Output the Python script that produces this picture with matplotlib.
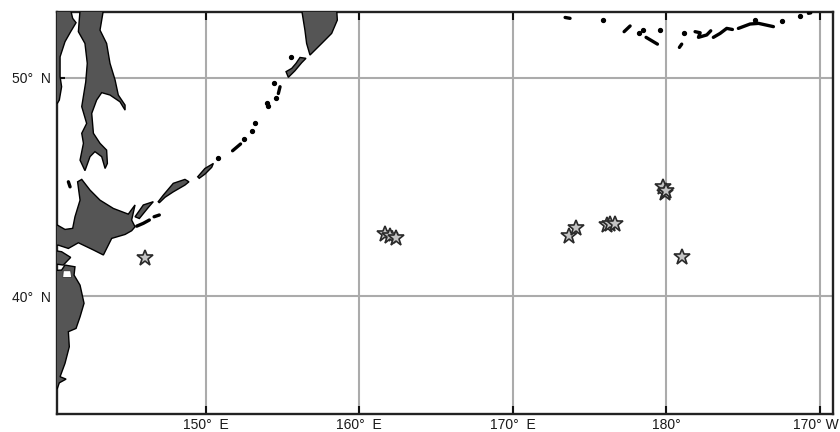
# Earthquake epicentres on a map of the NW Pacific
import matplotlib
matplotlib.use('Agg')
import matplotlib.pyplot as plt
from matplotlib.patches import Polygon
from matplotlib.transforms import ScaledTranslation

plt.rcParams['font.family'] = ['Liberation Sans', 'DejaVu Sans']

# star positions, lon / lat (lon past 180 runs on eastwards)
star_lon = [146.06, 161.69, 162.01, 162.38, 173.67, 174.12, 176.16, 176.35, 176.66, 179.81, 179.92, 179.95, 181.0]
star_lat = [41.74, 42.84, 42.76, 42.66, 42.73, 43.10, 43.25, 43.30, 43.28, 44.97, 44.73, 44.80, 41.77]

lon_ticks = [150, 160, 170, 180, 190]
lon_labels = ['150°  E', '160°  E', '170°  E', '180°', '170° W']
lat_ticks = [40, 50]
lat_labels = ['40°  N', '50°  N']

# land outlines
sakhalin = [(143.35, 53.09), (143.13, 52.17), (143.56, 51.56), (143.78, 50.65), (144.11, 49.89), (144.32, 49.20),
            (144.76, 48.74), (144.76, 48.51), (144.43, 48.89), (143.78, 49.20), (143.24, 49.31), (142.91, 48.97),
            (142.59, 48.36), (142.70, 47.45), (143.13, 46.99), (143.56, 46.68), (143.61, 46.07), (143.46, 45.84),
            (143.24, 46.38), (142.80, 46.61), (142.48, 46.38), (142.15, 45.74), (141.83, 46.22), (142.05, 46.99),
            (141.94, 47.45), (142.26, 47.90), (141.94, 48.67), (142.2, 49.8), (142.3, 50.65), (142.15, 51.56),
            (141.72, 52.10), (141.83, 53.09)]
mainland = [(140.0, 53.09), (141.22, 53.09), (141.35, 52.71), (141.57, 52.51), (141.22, 52.10), (140.85, 51.64),
            (140.53, 50.95), (140.53, 50.04), (140.63, 49.58), (140.48, 48.97), (140.35, 48.82), (140.0, 48.82)]
hokkaido = [(141.67, 45.23), (141.94, 45.34), (142.48, 44.85), (143.13, 44.39), (144.0, 44.01), (144.97, 43.75),
            (145.41, 44.17), (145.19, 43.48), (145.41, 43.17), (145.19, 42.99), (144.76, 42.82), (143.89, 42.64),
            (143.35, 41.88), (142.70, 42.11), (141.72, 42.44), (141.07, 42.18), (140.42, 42.33), (140.0, 42.33),
            (140.0, 43.25), (140.35, 43.25), (140.85, 43.05), (141.35, 43.10), (141.5, 43.63), (141.83, 44.39)]
oshima = [(140.0, 42.1), (140.63, 42.03), (141.22, 41.77), (140.74, 41.42), (140.0, 41.49)]
honshu = [(140.0, 41.16), (140.63, 41.19), (140.85, 41.42), (141.50, 41.34), (141.44, 40.96), (141.83, 40.50),
          (142.09, 39.67), (141.83, 39.05), (141.57, 38.52), (141.07, 38.37), (141.13, 37.68), (140.85, 36.92),
          (140.53, 36.31), (140.92, 36.20), (140.48, 36.03), (140.35, 35.77), (140.0, 35.77)]
kamchatka = [(156.26, 53.09), (158.54, 53.09), (158.58, 52.63), (158.21, 52.02), (157.56, 51.56), (156.80, 51.03),
             (156.58, 51.56), (156.47, 52.17)]
paramushir = [(155.24, 50.27), (155.39, 50.01), (155.82, 50.31), (156.26, 50.68), (156.54, 50.88), (156.15, 50.92),
              (155.89, 50.65), (155.61, 50.42)]
iturup = [(146.92, 44.32), (147.25, 44.62), (147.90, 45.16), (148.66, 45.34), (148.92, 45.23), (148.66, 45.08),
          (147.90, 44.77), (147.36, 44.52), (146.99, 44.27)]
urup = [(149.49, 45.46), (149.96, 45.84), (150.51, 46.07), (150.40, 45.89), (149.96, 45.58), (149.59, 45.39)]
kunashir = [(145.41, 43.63), (145.95, 44.17), (146.60, 44.32), (146.28, 44.06), (145.69, 43.55)]
land = [sakhalin, mainland, hokkaido, oshima, honshu, kamchatka, paramushir, iturup, urup, kunashir]

mutsu_bay = [(140.74, 41.16), (141.22, 41.16), (141.28, 40.85), (140.70, 40.85)]

# islands too thin to fill
isle_lines = [
    [(146.65, 43.63), (146.99, 43.71)],
    [(145.52, 43.2), (145.95, 43.33), (146.34, 43.48)],
    [(141.07, 45.23), (141.18, 45.0)],
    [(151.76, 46.65), (152.28, 46.96)],
    [(154.74, 49.27), (154.85, 49.58)],
    [(173.41, 52.75), (173.73, 52.71)],
    [(177.25, 52.10), (177.64, 52.36)],
    [(178.68, 51.84), (179.42, 51.53)],
    [(181.0, 51.53), (180.85, 51.38)],
    [(181.87, 52.10), (182.20, 52.05), (182.09, 51.84), (182.63, 51.95), (182.89, 52.14)],
    [(183.06, 51.84), (183.50, 52.02), (183.93, 52.25), (184.30, 52.20)],
    [(184.69, 52.25), (185.45, 52.45), (186.0, 52.48), (186.97, 52.33)],
    [(189.25, 52.94), (189.40, 52.96)],
]
isle_lon = [150.83, 152.50, 153.04, 153.22, 154.09, 153.98, 154.56, 154.45, 155.56, 175.90, 178.51, 178.25, 179.59,
            181.18, 185.78, 187.51, 188.71]
isle_lat = [46.30, 47.17, 47.57, 47.93, 48.70, 48.85, 49.05, 49.76, 50.95, 52.63, 52.17, 52.05, 52.17,
            52.02, 52.62, 52.60, 52.81]

fig = plt.figure(figsize=(8.4, 4.32), dpi=100)
ax = fig.add_axes([56.7 / 840, 17.7 / 432, 776 / 840, 402.3 / 432])

for shape in land:
    ax.add_patch(Polygon(shape, closed=True, facecolor='#555555', edgecolor='black', linewidth=1.0, zorder=3))
ax.add_patch(Polygon(mutsu_bay, closed=True, facecolor='white', edgecolor='#333333', linewidth=0.6, zorder=3.5))

for isle in isle_lines:
    ax.plot([p[0] for p in isle], [p[1] for p in isle], color='black', lw=2.4, solid_capstyle='round', zorder=3)
ax.plot(isle_lon, isle_lat, 'o', color='black', ms=2.8, zorder=3)

ax.plot(star_lon, star_lat, '*', ms=12, mfc='#c4c4c4', mec='#2a2a2a', mew=1.2, zorder=5)

ax.set_xlim(140.31, 190.83)
ax.set_ylim(34.59, 53.0)
ax.set_xticks(lon_ticks)
ax.set_xticklabels(lon_labels)
ax.set_yticks(lat_ticks)
ax.set_yticklabels(lat_labels)
ax.grid(True, color='#ababab', lw=1.5, zorder=1)
ax.set_axisbelow(True)
ax.tick_params(direction='in', length=6, width=1.5, color='#111111', labelsize=10, labelcolor='#1a1a1a', pad=4,
               top=True)
ax.tick_params(axis='x', pad=2.5)
for spine in ax.spines.values():
    spine.set_linewidth(1.7)
    spine.set_color('#222222')

# last label sits against the figure edge, shift it so the W stays inside
last = ax.get_xticklabels()[-1]
last.set_ha('right')
last.set_transform(last.get_transform() + ScaledTranslation(0.19, 0, fig.dpi_scale_trans))

fig.savefig('out.png', dpi=100)
